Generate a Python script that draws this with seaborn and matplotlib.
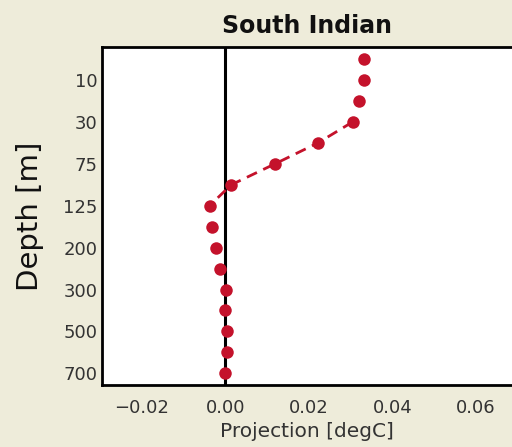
import numpy as np
import pandas as pd
import matplotlib
matplotlib.use("Agg")
import matplotlib.pyplot as plt
import seaborn as sns

depths = ["5", "10", "20", "30", "50", "75", "100", "125", "150", "200",
          "250", "300", "400", "500", "600", "700"]
projection = [0.0333, 0.0333, 0.0320, 0.0305, 0.0222, 0.0119, 0.0014, -0.0038,
              -0.0032, -0.0022, -0.0012, 0.0002, 0.0000, 0.0004, 0.0004, 0.0000]
tick_depths = ["10", "30", "75", "125", "200", "300", "500", "700"]
xticks = [-0.02, 0.00, 0.02, 0.04, 0.06]
fit_depths = ["30", "50", "75", "100", "125"]

bg = "#EEECDA"
red = "#C4122B"

sns.set_theme(style="white")
plt.rcParams["font.family"] = ["DejaVu Sans"]

fig = plt.figure(figsize=(5.12, 4.47), dpi=100, facecolor=bg)
ax = fig.add_axes([0.199, 0.139, 0.801, 0.756])
ax.set_facecolor("white")

df = pd.DataFrame({"depth": depths, "proj": projection})

ax.axvline(0, color="black", lw=2.2, zorder=1)

pos = {d: i for i, d in enumerate(depths)}
fit_y = [pos[d] for d in fit_depths]
fit_x = [projection[pos[d]] for d in fit_depths]
ax.plot(fit_x, fit_y, color=red, lw=2.0, ls=(0, (4, 2.5)), zorder=2)

sns.stripplot(data=df, x="proj", y="depth", order=depths, jitter=False,
              orient="h", color=red, size=9, linewidth=0, ax=ax, zorder=3)

ax.set_xlim(-0.0296, 0.0687)
ax.set_ylim(len(depths) - 0.45, -0.58)
ax.set_xticks(xticks)
ax.set_xticklabels(["\u22120.02", "0.00", "0.02", "0.04", "0.06"])
ax.set_yticks([pos[d] for d in tick_depths])
ax.set_yticklabels(tick_depths)

ax.tick_params(axis="both", direction="in", length=6, width=1.2,
               colors="black", labelsize=13, labelcolor="#333333")
ax.tick_params(axis="x", pad=10)
ax.tick_params(axis="y", pad=3)

for s in ["top", "bottom", "left"]:
    ax.spines[s].set_color("black")
    ax.spines[s].set_linewidth(2.0)
ax.spines["right"].set_visible(False)

ax.set_xlabel("Projection [degC]", fontsize=14.5, color="#333333", labelpad=4)
ax.set_ylabel("Depth [m]", fontsize=21, color="#111111", labelpad=14)
ax.set_title("South Indian", fontsize=17, fontweight="bold", color="#111111", pad=10)

fig.savefig("out.png", dpi=100, facecolor=bg)
